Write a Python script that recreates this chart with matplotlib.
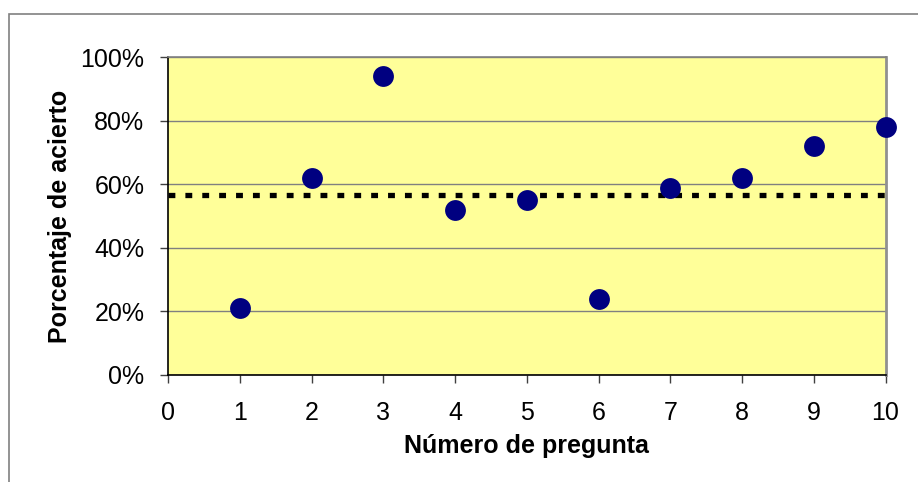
import numpy as np
import matplotlib.pyplot as plt
from matplotlib.patches import Rectangle
from matplotlib.ticker import PercentFormatter

# data to plot
preguntas = [1, 2, 3, 4, 5, 6, 7, 8, 9, 10]
acierto = [21, 62, 94, 52, 55, 24, 59, 62, 72, 78]
promedio_x = [0, 10.1]
promedio_y = [56.5, 56.5]

plt.rcParams['font.family'] = ['Liberation Sans', 'DejaVu Sans']

fig = plt.figure(figsize=(9.18, 4.82), dpi=100)
ax = fig.add_axes([168 / 918, 1 - 375 / 482, (885.5 - 168) / 918, (375 - 57.3) / 482])

# outer chart frame (cropped on the right and bottom)
fig.patches.append(Rectangle((8.5 / 918, -0.1), 1.2, 1 - 13.5 / 482 + 0.1,
                             transform=fig.transFigure, fill=False,
                             edgecolor='#808080', linewidth=1.2))

ax.set_facecolor('#FFFF99')
ax.set_xlim(0, 10)
ax.set_ylim(0, 100)
ax.set_xticks(np.arange(0, 11))
ax.set_yticks(np.arange(0, 101, 20))
ax.yaxis.set_major_formatter(PercentFormatter(decimals=0))
ax.grid(axis='y', color='#808080', linewidth=1.0)
ax.set_axisbelow(True)

for s in ['left', 'bottom']:
    ax.spines[s].set_color('black')
    ax.spines[s].set_linewidth(1.2)
ax.spines['top'].set_color('#808080')
ax.spines['top'].set_linewidth(1.2)
ax.spines['right'].set_color('#909090')
ax.spines['right'].set_linewidth(2)

ax.tick_params(axis='both', direction='out', length=6, width=1, color='#404040',
               labelsize=18, labelcolor='black')
ax.tick_params(axis='x', pad=13)
ax.tick_params(axis='y', pad=11)

ax.plot(promedio_x, promedio_y, color='black', linewidth=3.8,
        linestyle=(0, (1.3, 1.9)), dash_capstyle='butt', clip_on=False, zorder=3)
ax.plot(preguntas, acierto, 'o', color='#000080', markersize=15,
        markeredgewidth=0, clip_on=False, zorder=4)

ax.set_xlabel('Número de pregunta', fontsize=18, fontweight='bold', labelpad=6)
ax.set_ylabel('Porcentaje de acierto', fontsize=18, fontweight='bold', labelpad=6)

fig.savefig('out.png', dpi=100)
